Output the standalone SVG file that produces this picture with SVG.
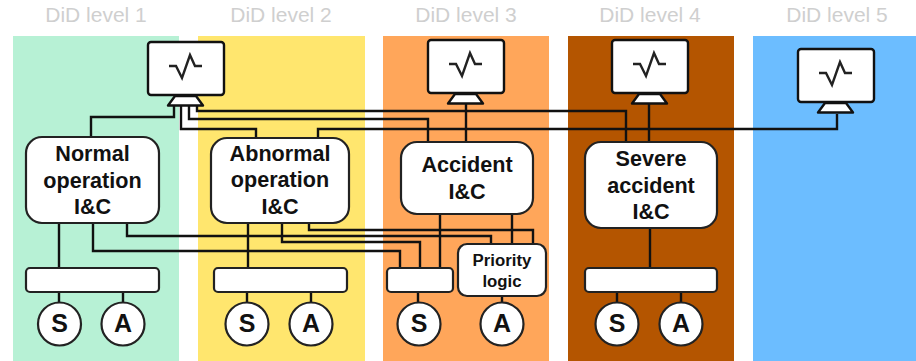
<svg xmlns="http://www.w3.org/2000/svg" width="916" height="361" viewBox="0 0 916 361">
<style>
text{font-family:"Liberation Sans",Arial,sans-serif;text-anchor:middle}
.h{font-size:21px;fill:#cfcfcf}
.l{font-size:21.600px;font-weight:bold;fill:#111}
.p{font-size:16.800px;font-weight:bold;fill:#111}
.c{font-size:25px;font-weight:bold;fill:#111}
.b{fill:#fff;stroke:#222;stroke-width:2.2}
.w{fill:none;stroke:#111;stroke-width:2.4;stroke-linejoin:miter}
.s{fill:#fff;stroke:#111;stroke-width:2.4;stroke-linejoin:round}
.z{fill:none;stroke:#222;stroke-width:2.4;stroke-linejoin:miter}
</style>
<defs>
<g id="mon">
<path class="s" d="M175 96H196L203 105.500H168Z"/>
<rect class="s" x="148" y="42" width="76" height="53" rx="3"/>
<path class="z" d="M169 66H176L182 78L190 55L195 66H202"/>
</g>
</defs>
<rect width="916" height="361" fill="#fff"/>
<g id="bands">
<rect x="13" y="36" width="166" height="325" fill="#b7f1d5"/>
<rect x="198" y="36" width="167" height="325" fill="#ffe66e"/>
<rect x="383" y="36" width="166" height="325" fill="#ffa65a"/>
<rect x="568" y="36" width="166" height="325" fill="#b45500"/>
<rect x="753" y="36" width="163" height="325" fill="#6cbdff"/>
<text class="h" x="96" y="22">DiD level 1</text>
<text class="h" x="281" y="22">DiD level 2</text>
<text class="h" x="466" y="22">DiD level 3</text>
<text class="h" x="650" y="22">DiD level 4</text>
<text class="h" x="837" y="22">DiD level 5</text>
</g>
<g id="connectors">
<path class="w" d="M91 138V117H174V106"/>
<path class="w" d="M181 106V129H256V138"/>
<path class="w" d="M189 106V119H428V142"/>
<path class="w" d="M197 106V111H626V142"/>
<path class="w" d="M318 138V129H837V114"/>
<path class="w" d="M466 104V142"/>
<path class="w" d="M649 104V142"/>
<path class="w" d="M59 223V268"/>
<path class="w" d="M93 223V251H400V268"/>
<path class="w" d="M127 223V236H491V244"/>
<path class="w" d="M248 223V268"/>
<path class="w" d="M282 223V242H420V268"/>
<path class="w" d="M309 223V230H533V244"/>
<path class="w" d="M440 214V268"/>
<path class="w" d="M512 214V244"/>
<path class="w" d="M650 228V268"/>
<path class="w" d="M59 292V304M123 292V304M247 292V304M311 292V304M418 292V304M502 296V304M617 292V304M681 292V304"/>
</g>
<g id="monitor1"><use href="#mon"/></g>
<g id="monitor3"><use href="#mon" x="280" y="-2"/></g>
<g id="monitor4"><use href="#mon" x="464" y="-2"/></g>
<g id="monitor5"><use href="#mon" x="650" y="7"/></g>
<g id="normal"><rect class="b" x="26" y="137" width="133" height="86" rx="16"/>
<text class="l" x="92.500" y="161">Normal</text><text class="l" x="92.500" y="188">operation</text><text class="l" x="92.500" y="214">I&amp;C</text></g>
<g id="abnormal"><rect class="b" x="211" y="138" width="138" height="85" rx="16"/>
<text class="l" x="280" y="161">Abnormal</text><text class="l" x="280" y="187">operation</text><text class="l" x="280" y="214">I&amp;C</text></g>
<g id="accident"><rect class="b" x="401" y="142" width="132" height="72" rx="16"/>
<text class="l" x="467" y="172">Accident</text><text class="l" x="467" y="199">I&amp;C</text></g>
<g id="severe"><rect class="b" x="585" y="142" width="132" height="86" rx="16"/>
<text class="l" x="651" y="166">Severe</text><text class="l" x="651" y="193">accident</text><text class="l" x="651" y="219">I&amp;C</text></g>
<g id="bus1"><rect class="b" x="26" y="268" width="133" height="24" rx="4"/></g>
<g id="bus2"><rect class="b" x="214" y="268" width="133" height="24" rx="4"/></g>
<g id="bus3"><rect class="b" x="387" y="268" width="66" height="24" rx="4"/></g>
<g id="bus4"><rect class="b" x="585" y="268" width="132" height="24" rx="4"/></g>
<g id="priority"><rect class="b" x="458" y="244" width="88" height="52" rx="9"/>
<text class="p" x="502" y="266">Priority</text><text class="p" x="502" y="287">logic</text></g>
<g id="s1"><circle class="b" cx="59.500" cy="324" r="21.500"/><text class="c" x="59.500" y="332">S</text></g>
<g id="a1"><circle class="b" cx="123" cy="324" r="21.500"/><text class="c" x="123" y="332">A</text></g>
<g id="s2"><circle class="b" cx="247" cy="324" r="21.500"/><text class="c" x="247" y="332">S</text></g>
<g id="a2"><circle class="b" cx="311" cy="324" r="21.500"/><text class="c" x="311" y="332">A</text></g>
<g id="s3"><circle class="b" cx="419" cy="324" r="21.500"/><text class="c" x="419" y="332">S</text></g>
<g id="a3"><circle class="b" cx="502" cy="324" r="21.500"/><text class="c" x="502" y="332">A</text></g>
<g id="s4"><circle class="b" cx="617" cy="324" r="21.500"/><text class="c" x="617" y="332">S</text></g>
<g id="a4"><circle class="b" cx="681" cy="324" r="21.500"/><text class="c" x="681" y="332">A</text></g>
</svg>
